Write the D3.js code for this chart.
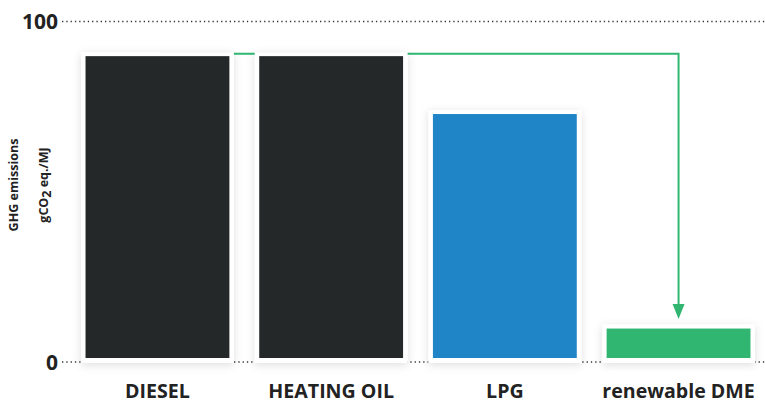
<!DOCTYPE html>
<html><head><meta charset="utf-8">
<script src="https://cdn.jsdelivr.net/npm/d3@7"></script>
<style>
html,body{margin:0;padding:0;background:#fff;}
svg{display:block;font-family:"Open Sans",sans-serif;}
</style></head>
<body><svg id="c" width="765" height="403"></svg>
<script>
const categories = ["DIESEL", "HEATING OIL", "LPG", "renewable DME"];
const values = [91, 91, 74, 11];
const colors = ["#242829", "#242829", "#1f85c6", "#31b672"];
const yTicks = [0, 100];

const svg = d3.select("#c");
const y = d3.scaleLinear().domain([0, 100]).range([362, 21.5]);
const x = d3.scaleBand().domain(categories).range([70.6, 765.4]).paddingInner(0.12).paddingOuter(0.06);

const defs = svg.append("defs");
const f = defs.append("filter").attr("id","sh").attr("x","-20%").attr("y","-20%").attr("width","140%").attr("height","140%");
f.append("feDropShadow").attr("dx",0).attr("dy",2).attr("stdDeviation",4).attr("flood-color","#000").attr("flood-opacity",0.13);

// gridlines
svg.append("g").selectAll("line").data(yTicks).join("line")
  .attr("x1",62).attr("x2",765).attr("y1",d=>y(d)).attr("y2",d=>y(d))
  .attr("stroke","#333").attr("stroke-width",1.3).attr("stroke-dasharray","1.3,3");

// tick labels
svg.append("g").selectAll("text").data(yTicks).join("text")
  .attr("x",58).attr("y",d=>y(d)).attr("dy","0.36em").attr("text-anchor","end")
  .attr("font-size",21).attr("font-weight",700).attr("fill","#222").text(d=>d);

// axis title
const t = svg.append("text").attr("transform","translate(17.5,185) rotate(-90)")
  .attr("text-anchor","middle").attr("font-size",12.5).attr("font-weight",700).attr("fill","#222");
t.text("GHG emissions");
const t2 = svg.append("text").attr("transform","translate(48,185) rotate(-90)")
  .attr("text-anchor","middle").attr("font-size",12.5).attr("font-weight",700).attr("fill","#222");
t2.append("tspan").text("gCO");
t2.append("tspan").attr("dy",3).text("2");
t2.append("tspan").attr("dy",-3).text(" eq./MJ");

// arrow
const x0 = x(categories[0]) + x.bandwidth()/2;
const x3 = x(categories[3]) + x.bandwidth()/2;
const yTip = y(values[3]) - 5.5;
svg.append("path")
  .attr("d", `M${x0},${y(values[0])+1.5}H${x3}V${yTip-10}`)
  .attr("fill","none").attr("stroke","#31b672").attr("stroke-width",2);
svg.append("path")
  .attr("d", `M${x3-6},${yTip-15}L${x3+6},${yTip-15}L${x3},${yTip}Z`)
  .attr("fill","#31b672");

// bars
const g = svg.append("g").selectAll("g").data(categories).join("g");
g.append("rect").attr("x",d=>x(d)).attr("width",x.bandwidth())
  .attr("y",(d,i)=>y(values[i])).attr("height",(d,i)=>y(0)-y(values[i])+1)
  .attr("fill","#fff").attr("filter","url(#sh)");
g.append("rect").attr("x",d=>x(d)+4.5).attr("width",x.bandwidth()-9)
  .attr("y",(d,i)=>y(values[i])+4).attr("height",(d,i)=>y(0)-y(values[i])-8)
  .attr("fill",(d,i)=>colors[i]);

// x labels
svg.append("g").selectAll("text").data(categories).join("text")
  .attr("x",d=>x(d)+x.bandwidth()/2).attr("y",397.5).attr("text-anchor","middle")
  .attr("font-size",19.6).attr("font-weight",700).attr("fill","#222").text(d=>d);
</script></body></html>
